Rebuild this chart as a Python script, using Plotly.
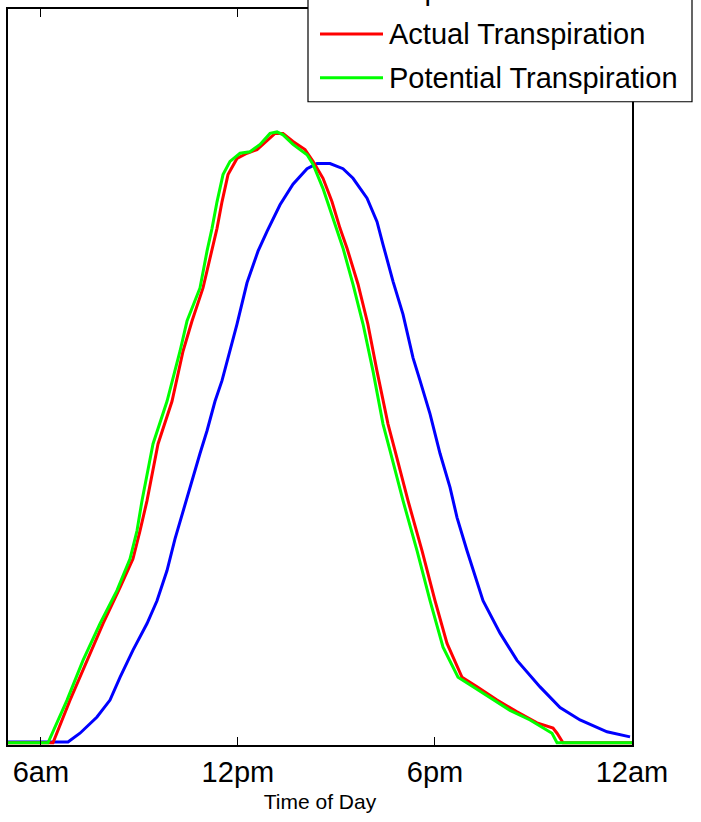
import plotly.graph_objects as go

# Time in hours of the day, values normalised (0 = bottom of axis, 1 = top of axis)
sap_time = [5.0, 6.431, 6.827, 7.192, 7.710, 8.106, 8.410, 8.806, 9.233, 9.537, 9.842, 10.085,
            10.329, 10.603, 10.846, 11.060, 11.303, 11.516, 11.760, 11.973, 12.278, 12.613,
            12.887, 13.283, 13.678, 14.105, 14.409, 14.805, 15.201, 15.505, 15.932, 16.236,
            16.419, 16.723, 17.028, 17.333, 17.546, 17.850, 18.155, 18.459, 18.673, 18.977,
            19.464, 19.982, 20.499, 21.200, 21.809, 22.418, 23.240, 23.940]
sap_flux = [0.004, 0.004, 0.004, 0.016, 0.038, 0.061, 0.092, 0.129, 0.165, 0.196, 0.237, 0.280,
            0.318, 0.359, 0.396, 0.427, 0.467, 0.495, 0.535, 0.572, 0.628, 0.671,
            0.698, 0.734, 0.762, 0.783, 0.790, 0.790, 0.783, 0.770, 0.743, 0.711,
            0.680, 0.630, 0.585, 0.526, 0.495, 0.450, 0.396, 0.350, 0.309, 0.264,
            0.196, 0.152, 0.115, 0.079, 0.051, 0.034, 0.018, 0.011]

act_time = [5.0, 6.370, 6.888, 7.406, 7.893, 8.410, 8.806, 9.019, 9.233, 9.568, 9.994, 10.329,
            10.603, 10.938, 11.212, 11.364, 11.516, 11.699, 11.973, 12.278, 12.582, 12.887,
            13.130, 13.374, 13.678, 14.044, 14.287, 14.592, 14.866, 15.110, 15.323, 15.658,
            15.957, 16.236, 16.571, 16.784, 17.180, 17.606, 18.002, 18.368, 18.825, 19.282,
            19.890, 20.499, 21.108, 21.596, 21.717, 21.900, 24.0]
act_transp = [0.003, 0.003, 0.061, 0.115, 0.165, 0.214, 0.253, 0.291, 0.332, 0.409, 0.467, 0.535,
              0.576, 0.621, 0.671, 0.702, 0.738, 0.775, 0.797, 0.804, 0.809, 0.822,
              0.831, 0.831, 0.820, 0.809, 0.793, 0.770, 0.738, 0.702, 0.675, 0.626,
              0.572, 0.508, 0.436, 0.400, 0.332, 0.264, 0.196, 0.138, 0.092, 0.079,
              0.061, 0.045, 0.030, 0.023, 0.016, 0.003, 0.003]

pot_time = [5.0, 6.218, 6.797, 7.284, 7.801, 8.319, 8.715, 8.928, 9.080, 9.415, 9.842, 10.237,
            10.451, 10.846, 11.060, 11.212, 11.364, 11.547, 11.760, 12.065, 12.369, 12.674,
            12.978, 13.191, 13.374, 13.678, 14.105, 14.287, 14.592, 14.896, 15.201, 15.505,
            15.810, 16.114, 16.419, 16.632, 17.028, 17.454, 17.850, 18.246, 18.703, 19.160,
            19.677, 20.286, 20.895, 21.413, 21.565, 21.717, 24.0]
pot_transp = [0.003, 0.003, 0.061, 0.115, 0.165, 0.210, 0.253, 0.291, 0.332, 0.409, 0.467, 0.535,
              0.576, 0.621, 0.671, 0.702, 0.738, 0.775, 0.793, 0.804, 0.806, 0.816,
              0.831, 0.833, 0.829, 0.816, 0.802, 0.789, 0.756, 0.715, 0.675, 0.626,
              0.572, 0.508, 0.436, 0.400, 0.332, 0.264, 0.196, 0.133, 0.092, 0.079,
              0.064, 0.047, 0.034, 0.020, 0.016, 0.003, 0.003]

tick_vals = [6, 12, 18, 24]
tick_text = ["6am", "12pm", "6pm", "12am"]
series_names = ["Sap Flux", "Actual Transpiration", "Potential Transpiration"]
colors = ["#0000FF", "#FF0000", "#00FF00"]

fig = go.Figure()
for t, v, name, c in zip([sap_time, act_time, pot_time],
                         [sap_flux, act_transp, pot_transp],
                         series_names, colors):
    fig.add_trace(go.Scatter(x=t, y=v, mode="lines", name=name,
                             line=dict(color=c, width=3), showlegend=False))

# Custom legend (box partially cut off at the top, like the reference)
L, R, T, B = 8, 632, 7, 745
def px(x):
    return (x - L) / (R - L)
def py(y):
    return (B - y) / (B - T)

shapes = [dict(type="rect", xref="paper", yref="paper",
               x0=px(308), x1=px(692), y0=py(100), y1=py(-40),
               line=dict(color="black", width=1.2), fillcolor="white", layer="above")]
annotations = []
for i, (name, c) in enumerate(zip(series_names, colors)):
    yc = -12 + 44 * i
    shapes.append(dict(type="line", xref="paper", yref="paper",
                       x0=px(320), x1=px(383), y0=py(yc), y1=py(yc),
                       line=dict(color=c, width=3), layer="above"))
    annotations.append(dict(text=name, xref="paper", yref="paper", x=px(387), y=py(yc),
                            xanchor="left", yanchor="middle", showarrow=False,
                            font=dict(family="Liberation Sans, Arial", size=29, color="black")))

fig.update_layout(
    width=701, height=822,
    margin=dict(l=L, r=701 - R, t=T, b=822 - B, pad=0),
    paper_bgcolor="white", plot_bgcolor="white",
    shapes=shapes, annotations=annotations,
    xaxis=dict(range=[5, 24], tickvals=tick_vals, ticktext=tick_text,
               ticks="inside", ticklen=8, tickwidth=1.2, tickcolor="black",
               showline=True, linecolor="black", linewidth=1.5, mirror="ticks",
               showgrid=False, zeroline=False,
               tickfont=dict(family="Liberation Sans, Arial", size=29, color="black"),
               title=dict(text="Time of Day", standoff=8,
                          font=dict(family="Liberation Sans Narrow, Arial Narrow, Liberation Sans",
                                    size=21, color="black"))),
    yaxis=dict(range=[0, 1], showticklabels=False, ticks="",
               showline=True, linecolor="black", linewidth=1.5, mirror=True,
               showgrid=False, zeroline=False),
)

fig.write_html("out.html", config={"displayModeBar": False},
               post_script="document.body.style.margin='0px';")
